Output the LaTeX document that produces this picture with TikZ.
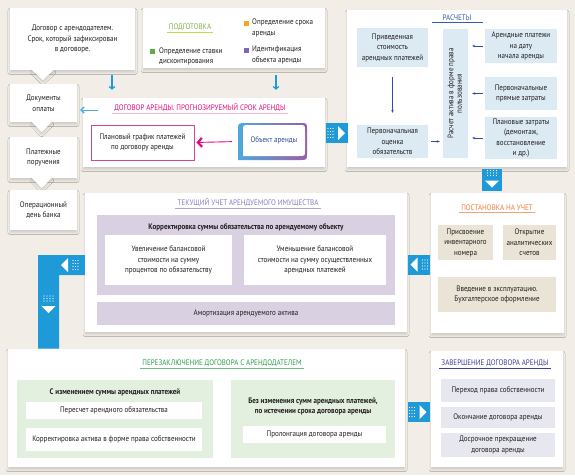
\documentclass[tikz,border=0pt]{standalone}
\usepackage{fontspec}
\usepackage{graphicx}
\setmainfont{PT Sans}[FakeStretch=0.88]
\usetikzlibrary{arrows.meta,shadows.blur,calc}
\definecolor{bg}{HTML}{F2EEE7}
\definecolor{txt}{HTML}{231F20}
\definecolor{arrblue}{HTML}{1E9AD8}
\definecolor{magen}{HTML}{E4097E}
\definecolor{plancol}{HTML}{D2468F}
\definecolor{pinkline}{HTML}{F5B5D5}
\definecolor{raschT}{HTML}{2F5DA8}
\definecolor{tekT}{HTML}{8480BE}
\definecolor{postT}{HTML}{EE7D3B}
\definecolor{perT}{HTML}{2E9D4B}
\definecolor{zavT}{HTML}{3B3F95}
\definecolor{podgT}{HTML}{7DB544}
\definecolor{podgL}{HTML}{C9D64A}
\definecolor{lblue}{HTML}{DCEAF4}
\definecolor{lav}{HTML}{D9D0E2}
\definecolor{beig}{HTML}{E9E4D6}
\definecolor{lgreen}{HTML}{E3EFDF}
\definecolor{zavfill}{HTML}{E7E7F0}
\definecolor{dkblue}{HTML}{2F4E9F}
\definecolor{objblue}{HTML}{4FA8DC}
\definecolor{objpurple}{HTML}{9A5EA8}
\definecolor{objtext}{HTML}{2F4D9C}
\definecolor{bulG}{HTML}{5DAE3E}
\definecolor{bulO}{HTML}{F5A623}
\definecolor{bulP}{HTML}{8066B8}
\tikzset{
  shad/.style={blur shadow={shadow xshift=0pt, shadow yshift=-2.5pt, shadow blur radius=2pt, shadow opacity=14}},
  card/.style={fill=white, align=center, inner sep=1pt, text=txt, shad},
  inbox/.style={align=center, inner sep=1pt, text=txt},
  ttl/.style={inner xsep=2pt, inner ysep=1.5pt, font=\fontsize{8}{9}\selectfont},
  boldl/.style={align=center, inner sep=0pt, text=txt, font=\fontsize{8}{10.5}\selectfont\bfseries},
  bul/.style={minimum size=5pt, inner sep=0pt},
  barr/.style={draw=arrblue, line width=1.2pt, -{Straight Barb[length=2.5pt,width=5.5pt]}},
  sarr/.style={draw=dkblue, line width=0.6pt, -{Stealth[length=3pt,width=2.5pt]}},
  magarr/.style={draw=plancol!80, line width=0.9pt, -{Straight Barb[length=4pt,width=9pt,line width=2.2pt]}, color=magen},
  lbarr/.style={draw=arrblue!80, line width=0.9pt, -{Straight Barb[length=3pt,width=6pt,line width=1.4pt]}},
  blockarr/.pic={
    \fill[arrblue] (-11,-10) rectangle (11,10);
    \fill[white] (1,-7) -- (8,0) -- (1,7) -- cycle;
    \foreach \xx in {-9,-6.5,-4} \foreach \yy in {-4.5,-1.5,1.5,4.5} \fill[white] (\xx,\yy) circle[radius=0.65];
  }
}
\begin{document}
\begin{tikzpicture}[x=1pt,y=-1pt,font=\fontsize{8}{10.5}\selectfont]
\useasboundingbox (0,0) rectangle (575,475);
\fill[bg] (0,0) rectangle (575,475);

% ---------- top left callout
\node[card, minimum width=125pt, minimum height=62pt] (dog) at (72.5,39) {Договор с арендодателем.\\Срок, который зафиксирован\\в договоре.};
\path[fill=white, shad] ($(dog.south west)+(22,-0.5)$) -- ($(dog.south west)+(33,10)$) -- ($(dog.south west)+(44,-0.5)$) -- cycle;

% ---------- preparation
\node[card, minimum width=182pt, minimum height=60pt] (podg) at (234,38) {};
\node[ttl, text=podgT] (podgt) at (190,27) {ПОДГОТОВКА};
\draw[podgL, line width=0.8pt] (podgt.south west) -- (podgt.south east);
\node[bul, fill=bulO] (b1) at (246,23) {};
\node[anchor=west, align=left, inner sep=0pt, text=txt] (pi1) at (252,28) {Определение срока\\аренды};
\node[bul, fill=bulP] (b2) at (246,50) {};
\node[anchor=west, align=left, inner sep=0pt, text=txt] (pi2) at (252,55) {Идентификация\\объекта аренды};
\node[bul, fill=bulG] (b3) at (152,51) {};
\node[anchor=west, align=left, inner sep=0pt, text=txt] (pi3) at (159,56.5) {Определение ставки\\дисконтирования};

% ---------- left column
\node[card, minimum width=67pt, minimum height=38pt] (docs) at (43.5,103) {Документы\\оплаты};
\path[fill=white, shad] ($(docs.south west)+(22,-0.5)$) -- ($(docs.south west)+(32,10)$) -- ($(docs.south west)+(42,-0.5)$) -- cycle;
\node[card, minimum width=67pt, minimum height=41pt] (plat) at (43.5,157.5) {Платежные\\поручения};
\path[fill=white, shad] ($(plat.south west)+(22,-0.5)$) -- ($(plat.south west)+(32,10)$) -- ($(plat.south west)+(42,-0.5)$) -- cycle;
\node[card, minimum width=67pt, minimum height=40pt] (oper) at (43.5,210) {Операционный\\день банка};

% ---------- lease contract
\node[card, minimum width=242pt, minimum height=69pt] (dogar) at (204,132.5) {};
\node[ttl, text=magen] (dogart) at (200,108) {ДОГОВОР АРЕНДЫ. ПРОГНОЗИРУЕМЫЙ СРОК АРЕНДЫ};
\draw[pinkline, line width=0.8pt] (dogart.south west) -- (dogart.south east);
\node[inbox, draw=plancol, line width=0.9pt, fill=white, minimum width=103pt, minimum height=35pt] (plan) at (142.5,142.5) {Плановый график платежей\\по договору аренды};
\node[minimum width=69pt, minimum height=37pt, inner sep=0pt] (obj) at (272.5,141.5) {};
\shade[left color=objblue, right color=objpurple] (238,160) -- (238,131) .. controls (238,123) .. (246,123) -- (300,123) .. controls (307,123) .. (307,130) -- (307,153) .. controls (307,160) .. (300,160) -- cycle;
\fill[white] (243,156) -- (243,131) .. controls (243,125) .. (249,125) -- (299,125) .. controls (305,125) .. (305,131) -- (305,150) .. controls (305,156) .. (299,156) -- cycle;
\node[text=objtext, inner sep=0pt] (objt) at (274,140.5) {Объект аренды};
\draw[magarr, shorten <=6pt, shorten >=2pt] (obj.west) -- (plan.east);
\coordinate (la) at (98,110);
\draw[lbarr, shorten >=3pt] (la) -- (docs.east |- la);
\coordinate (c1) at (112,0);
\coordinate (c2) at (276,0);
\draw[barr, shorten <=5pt, shorten >=8pt] (dog.south -| c1) -- (dogar.north -| c1);
\draw[barr, shorten <=7pt, shorten >=8pt] (podg.south -| c2) -- (dogar.north -| c2);

% ---------- calculations
\node[card, minimum width=220pt, minimum height=157pt] (rasch) at (457,88.5) {};
\node[ttl, text=raschT] (rascht) at (457,18) {РАСЧЕТЫ};
\draw[raschT, line width=0.8pt] ([xshift=-9pt]rascht.south west) -- ([xshift=9pt]rascht.south east);
\node[inbox, fill=lblue, minimum width=71pt, minimum height=39pt] (pv) at (392.5,47.5) {Приведенная\\стоимость\\арендных платежей};
\node[inbox, fill=lblue, minimum width=71pt, minimum height=33pt] (po) at (392.5,141.5) {Первоначальная\\оценка\\обязательств};
\node[inbox, fill=lblue, minimum width=25pt, minimum height=129pt] (vert) at (455.5,93.5) {\rotatebox{90}{\begin{tabular}{@{}c@{}}Расчет актива в форме права\\[-2pt]пользования\end{tabular}}};
\node[inbox, fill=lblue, minimum width=72pt, minimum height=34pt] (r1) at (521,46) {Арендные платежи\\на дату\\начала аренды};
\node[inbox, fill=lblue, minimum width=72pt, minimum height=33pt] (r2) at (521,93.5) {Первоначальные\\прямые затраты};
\node[inbox, fill=lblue, minimum width=72pt, minimum height=42pt] (r3) at (521,138) {Плановые затраты\\(демонтаж,\\восстановление\\и др.)};
\draw[sarr, shorten <=10pt, shorten >=12pt] (pv) -- (po);
\draw[sarr, shorten <=3pt, shorten >=3pt] (po.east) -- (po.east -| vert.west);
\draw[sarr, shorten <=2pt, shorten >=4pt] (r1.west) -- (r1.west -| vert.east);
\draw[sarr, shorten <=2pt, shorten >=4pt] (r2.west) -- (r2.west -| vert.east);
\draw[sarr, shorten <=2pt, shorten >=4pt] (r3.west) -- (r3.west -| vert.east);

% ---------- registration
\node[card, minimum width=133pt, minimum height=140pt] (post) at (497.5,263) {};
\node[ttl, text=postT] (postt) at (497,208) {ПОСТАНОВКА НА УЧЕТ};
\draw[postT!70, line width=0.8pt] (postt.south west) -- (postt.south east);
\node[inbox, fill=beig, minimum width=55pt, minimum height=35pt] (p1) at (465.5,242.5) {Присвоение\\инвентарного\\номера};
\node[inbox, fill=beig, minimum width=53pt, minimum height=35pt] (p2) at (529.5,242.5) {Открытие\\аналитических\\счетов};
\node[inbox, fill=beig, minimum width=118pt, minimum height=35pt] (p3) at (497,294.5) {Введение в эксплуатацию.\\Бухгалтерское оформление};

% ---------- current accounting
\node[card, minimum width=322pt, minimum height=139pt] (tek) at (246,262.5) {};
\node[ttl, text=tekT] (tekt) at (248,203) {ТЕКУЩИЙ УЧЕТ АРЕНДУЕМОГО ИМУЩЕСТВА};
\draw[tekT!70, line width=0.8pt] (tekt.south west) -- (tekt.south east);
\node[inbox, fill=lav, minimum width=298pt, minimum height=80pt] (kor) at (246,255) {};
\node[boldl] (kort) at (246,227) {Корректировка суммы обязательства по арендуемому объекту};
\node[inbox, fill=white, minimum width=127pt, minimum height=50pt] (k1) at (168.5,260) {Увеличение балансовой\\стоимости на сумму\\процентов по обязательству};
\node[inbox, fill=white, minimum width=142pt, minimum height=50pt] (k2) at (315,260) {Уменьшение балансовой\\стоимости на сумму осуществленных\\арендных платежей};
\node[inbox, fill=lav, minimum width=298pt, minimum height=23pt] (am) at (246,313.5) {Амортизация арендуемого актива};

% ---------- renegotiation
\node[card, minimum width=397pt, minimum height=118pt] (per) at (206.5,408) {};
\node[ttl, text=perT] (pert) at (222,363) {ПЕРЕЗАКЛЮЧЕНИЕ ДОГОВОРА С АРЕНДОДАТЕЛЕМ};
\draw[perT!70, line width=0.8pt] (pert.south west) -- (pert.south east);
\node[inbox, fill=lgreen, minimum width=196pt, minimum height=78pt] (g1) at (115,419) {};
\node[boldl] (g1t) at (115,392) {С изменением суммы арендных платежей};
\node[inbox, fill=white, minimum width=176pt, minimum height=17pt] (w1) at (114,410.5) {Пересчет арендного обязательства};
\node[inbox, fill=white, minimum width=176pt, minimum height=23pt] (w2) at (114,439.5) {Корректировка актива в форме права собственности};
\node[inbox, fill=lgreen, minimum width=164pt, minimum height=78pt] (g2) at (313,419) {};
\node[boldl] (g2t) at (313,406.5) {Без изменения сумм арендных платежей,\\по истечении срока договора аренды};
\node[inbox, fill=white, minimum width=143pt, minimum height=17pt] (w3) at (314.5,434.5) {Пролонгация договора аренды};

% ---------- completion
\node[card, minimum width=132pt, minimum height=116pt] (zav) at (497,409) {};
\node[ttl, text=zavT] (zavt) at (495,363) {ЗАВЕРШЕНИЕ ДОГОВОРА АРЕНДЫ};
\draw[zavT, line width=0.8pt] (zavt.south west) -- (zavt.south east);
\node[inbox, fill=zavfill, minimum width=114pt, minimum height=23pt] (z1) at (498,390.5) {Переход права собственности};
\node[inbox, fill=zavfill, minimum width=114pt, minimum height=21pt] (z2) at (498,417.5) {Окончание договора аренды};
\node[inbox, fill=zavfill, minimum width=114pt, minimum height=24pt] (z3) at (498,445) {Досрочное прекращение\\договора аренды};

% ---------- blue connectors
\fill[arrblue] (38,255) -- (tek.west |- 0,255) -- (tek.west |- 0,275) -- (59,275) -- (59,348.5) -- (38,348.5) -- cycle;
\pic[rotate=180] at (69,265) {blockarr};
\pic[rotate=-90] at (48.5,305) {blockarr};
\pic at (337,133) {blockarr};
\pic[rotate=-90] at (492,179.5) {blockarr};
\pic[rotate=180] at (418.5,264.5) {blockarr};
\pic at (418.5,412) {blockarr};
\end{tikzpicture}
\end{document}
